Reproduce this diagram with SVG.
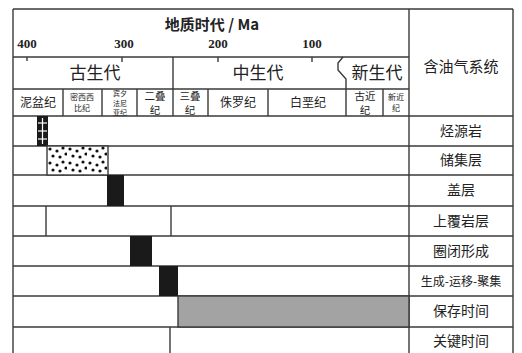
<svg xmlns="http://www.w3.org/2000/svg" width="522" height="353" viewBox="0 0 522 353">
<style>
.ln{stroke:#3a3a3a;stroke-width:1.4;fill:none}
.cn{font-family:"Noto Sans CJK SC","Noto Sans CJK TC",serif;fill:#222;text-anchor:middle}
.num{font-family:"Liberation Serif",serif;font-weight:bold;fill:#222;text-anchor:middle;font-size:13px}
.blk{fill:#1a1a1a}
</style>
<defs>
<pattern id="dots" x="47" y="146" width="20" height="14" patternUnits="userSpaceOnUse">
<rect width="20" height="14" fill="#fff"/>
<circle cx="3" cy="3" r="1.6" fill="#111"/>
<circle cx="10" cy="5" r="1.6" fill="#111"/>
<circle cx="16" cy="2" r="1.6" fill="#111"/>
<circle cx="6" cy="10" r="1.6" fill="#111"/>
<circle cx="13" cy="11" r="1.6" fill="#111"/>
<circle cx="19" cy="8" r="1.6" fill="#111"/>
</pattern>
</defs>
<rect width="522" height="353" fill="#fff"/>

<g id="grid">
<line class="ln" x1="13" y1="9" x2="513" y2="9"/>
<line class="ln" x1="13" y1="9" x2="13" y2="355"/>
<line class="ln" x1="513" y1="9" x2="513" y2="355"/>
<line class="ln" x1="409" y1="9" x2="409" y2="355"/>
<line class="ln" x1="13" y1="57" x2="409" y2="57"/>
<line class="ln" x1="13" y1="89" x2="409" y2="89"/>
<line class="ln" x1="13" y1="116" x2="513" y2="116"/>
<line class="ln" x1="13" y1="146" x2="513" y2="146"/>
<line class="ln" x1="13" y1="175" x2="513" y2="175"/>
<line class="ln" x1="13" y1="206" x2="513" y2="206"/>
<line class="ln" x1="13" y1="236" x2="513" y2="236"/>
<line class="ln" x1="13" y1="266" x2="513" y2="266"/>
<line class="ln" x1="13" y1="296" x2="513" y2="296"/>
<line class="ln" x1="13" y1="327" x2="513" y2="327"/>
<line class="ln" x1="173" y1="57" x2="173" y2="116"/>
<path class="ln" d="M343,57 L338,63 L338,70 L346,79 L346,116"/>
<line class="ln" x1="63" y1="89" x2="63" y2="116"/>
<line class="ln" x1="102" y1="89" x2="102" y2="116"/>
<line class="ln" x1="137" y1="89" x2="137" y2="116"/>
<line class="ln" x1="208" y1="89" x2="208" y2="116"/>
<line class="ln" x1="268" y1="89" x2="268" y2="116"/>
<line class="ln" x1="383" y1="89" x2="383" y2="116"/>
<line class="ln" x1="27" y1="57" x2="27" y2="61"/>
<line class="ln" x1="122" y1="57" x2="122" y2="62"/>
<line class="ln" x1="218" y1="57" x2="218" y2="62"/>
<line class="ln" x1="312" y1="57" x2="312" y2="62"/>
</g>

<g id="header">
<text class="cn" x="212" y="30" font-size="15" font-weight="bold">地质时代 / Ma</text>
<text class="num" x="27" y="48">400</text>
<text class="num" x="124" y="48">300</text>
<text class="num" x="218" y="48">200</text>
<text class="num" x="312" y="48">100</text>
<text class="cn" x="461" y="72" font-size="15">含油气系统</text>
<text class="cn" x="95" y="79" font-size="17">古生代</text>
<text class="cn" x="258" y="79" font-size="17">中生代</text>
<text class="cn" x="377" y="79" font-size="17">新生代</text>
<text class="cn" x="38" y="107" font-size="12">泥盆纪</text>
<text class="cn" font-size="8"><tspan x="82" y="100">密西西</tspan><tspan x="82" y="111.2">比纪</tspan></text>
<text class="cn" font-size="7"><tspan x="120" y="96">宾夕</tspan><tspan x="120" y="105.5">法尼</tspan><tspan x="120" y="115">亚纪</tspan></text>
<text class="cn" font-size="10.5"><tspan x="155" y="99.5">二叠</tspan><tspan x="155" y="114.2">纪</tspan></text>
<text class="cn" font-size="10.5"><tspan x="190" y="99.5">三叠</tspan><tspan x="190" y="114.2">纪</tspan></text>
<text class="cn" x="238" y="107" font-size="12">侏罗纪</text>
<text class="cn" x="308" y="107" font-size="12">白垩纪</text>
<text class="cn" font-size="10.5"><tspan x="365" y="99.5">古近</tspan><tspan x="365" y="114.2">纪</tspan></text>
<text class="cn" font-size="8"><tspan x="396" y="100">新近</tspan><tspan x="396" y="111.2">纪</tspan></text>
</g>

<g id="row-source">
<rect class="blk" x="37" y="116" width="11" height="30"/>
<line x1="42.5" y1="118" x2="42.5" y2="144" stroke="#fff" stroke-width="1.2"/>
<line x1="38" y1="123" x2="47" y2="123" stroke="#fff" stroke-width="1.2"/>
<line x1="38" y1="131" x2="47" y2="131" stroke="#fff" stroke-width="1.2"/>
<line x1="38" y1="139" x2="47" y2="139" stroke="#fff" stroke-width="1.2"/>
<text class="cn" x="461" y="136" font-size="14">烃源岩</text>
</g>

<g id="row-reservoir">
<rect x="47" y="146" width="61" height="29" style="fill:url(#dots);stroke:#3a3a3a;stroke-width:1.4"/>
<text class="cn" x="461" y="165" font-size="14">储集层</text>
</g>

<g id="row-seal">
<rect class="blk" x="107" y="175" width="17" height="31"/>
<text class="cn" x="461" y="195" font-size="14">盖层</text>
</g>

<g id="row-overburden">
<line class="ln" x1="46" y1="206" x2="46" y2="236"/>
<line class="ln" x1="171" y1="206" x2="171" y2="236"/>
<text class="cn" x="461" y="226" font-size="14">上覆岩层</text>
</g>

<g id="row-trap">
<rect class="blk" x="130" y="236" width="22" height="30"/>
<text class="cn" x="461" y="256" font-size="14">圈闭形成</text>
</g>

<g id="row-generation">
<rect class="blk" x="159" y="266" width="19" height="30"/>
<text class="cn" x="461" y="286" font-size="12">生成-运移-聚集</text>
</g>

<g id="row-preservation">
<rect x="178" y="296" width="231" height="31" style="fill:#a3a3a3;stroke:#3a3a3a;stroke-width:1.4"/>
<text class="cn" x="461" y="316" font-size="14">保存时间</text>
</g>

<g id="row-critical">
<line class="ln" x1="170" y1="327" x2="170" y2="355"/>
<text class="cn" x="461" y="346" font-size="14">关键时间</text>
</g>
</svg>
